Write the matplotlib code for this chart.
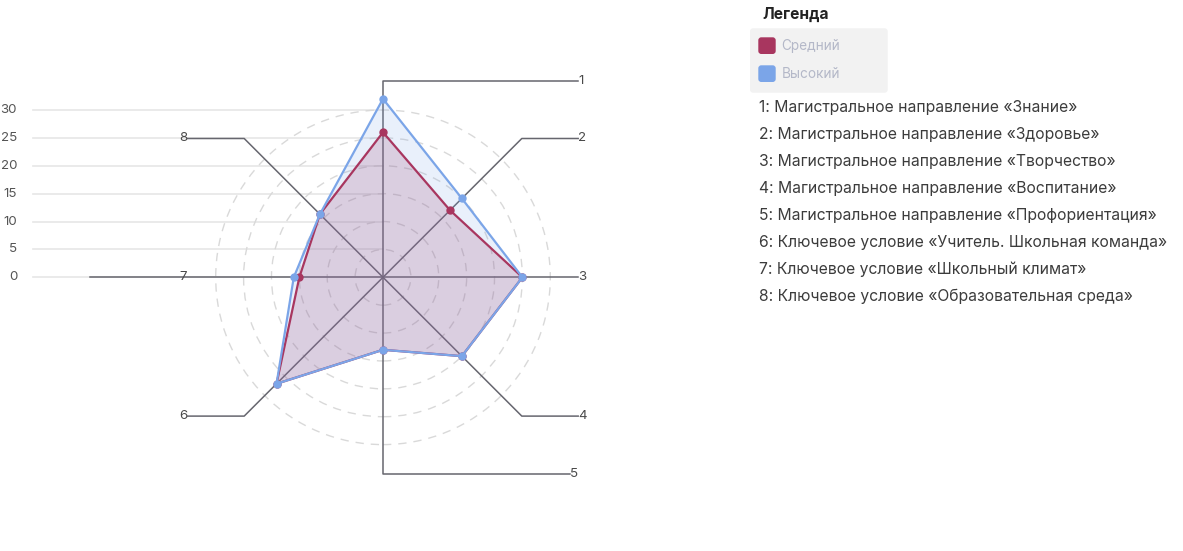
import numpy as np
import matplotlib.pyplot as plt
from matplotlib.patches import FancyBboxPatch, Circle

plt.rcParams['font.family'] = ['Inter', 'DejaVu Sans']

###############################################################################
# Data
###############################################################################
AXIS_IDS = ['1', '2', '3', '4', '5', '6', '7', '8']
AXIS_NAMES = [
    'Магистральное направление «Знание»',
    'Магистральное направление «Здоровье»',
    'Магистральное направление «Творчество»',
    'Магистральное направление «Воспитание»',
    'Магистральное направление «Профориентация»',
    'Ключевое условие «Учитель. Школьная команда»',
    'Ключевое условие «Школьный климат»',
    'Ключевое условие «Образовательная среда»',
]
SERIES = ['Средний', 'Высокий']
SREDNIY = [26, 17, 25, 20, 13, 27, 15, 16]
VYSOKIY = [32, 20, 25, 20, 13, 27, 16, 16]
TICKS = [0, 5, 10, 15, 20, 25, 30]
COLORS = ['#a8365f', '#7ba5e8']

###############################################################################
# Layout
###############################################################################
(W, H) = (1183, 551)
(CX, CY) = (383, 277.3)
S = 167.3 / 30  # px per unit

fig = plt.figure(figsize=(W / 100, H / 100), dpi=100)
ax = fig.add_axes([0, 0, 1, 1])
ax.set_xlim(-CX / S, (W - CX) / S)
ax.set_ylim(-(H - CY) / S, CY / S)
ax.axis('off')

ang = np.deg2rad(90 - 45 * np.arange(len(AXIS_IDS)))

# left value axis
for t in TICKS:
    ax.plot([-62.7, 0], [t, t], color='#e6e6e6', lw=1.2, zorder=1)
    ax.text(-65.6, t, str(t), ha='right', va='center',
            fontsize=9.6, color='#555555')

# dashed rings
for r in TICKS[1:]:
    ax.add_patch(Circle((0, 0), r, fill=False, ec='#d9d9d9', lw=1,
                        ls=(0, (6, 5)), zorder=1))

# spokes with elbow leaders
L = 35.2
d = L * np.cos(np.pi / 4)
LEAD = [
    [(0, L), (35, L)],
    [(d, d), (35, d)],
    [(35, 0)],
    [(d, -d), (35, -d)],
    [(0, -L), (33.5, -L)],
    [(-d, -d), (-35, -d)],
    [(-52.5, 0)],
    [(-d, d), (-35, d)],
]
LBL = [(35.0, L, 'left'), (35.0, d, 'left'), (35.0, 0, 'left'),
       (35.0, -d, 'left'), (33.5, -L, 'left'), (-35.8, -d, 'center'),
       (-35.8, 0, 'center'), (-35.8, d, 'center')]
for (pts, (lx, ly, ha), lab) in zip(LEAD, LBL, AXIS_IDS):
    xs = [0] + [p[0] for p in pts]
    ys = [0] + [p[1] for p in pts]
    ax.plot(xs, ys, color='#66666e', lw=1.1, zorder=2)
    ax.text(lx, ly, lab, ha=ha, va='center', fontsize=9.6,
            color='#4a4a4a', zorder=3)

# series
for (vals, col, alpha, z) in [(SREDNIY, COLORS[0], 0.2, 4),
                              (VYSOKIY, COLORS[1], 0.16, 5)]:
    v = np.array(vals, dtype=float)
    x = v * np.cos(ang)
    y = v * np.sin(ang)
    ax.fill(x, y, color=col, alpha=alpha, lw=0, zorder=3)
    ax.plot(np.append(x, x[0]), np.append(y, y[0]), color=col, lw=1.6,
            zorder=z)
    ax.plot(x, y, 'o', color=col, ms=5, zorder=z)

###############################################################################
# Legend (pixel coords)
###############################################################################
lg = fig.add_axes([0, 0, 1, 1])
lg.set_xlim(0, W)
lg.set_ylim(H, 0)
lg.axis('off')
lg.patch.set_alpha(0)

lg.text(762, 14, 'Легенда', ha='left', va='center', fontsize=11.2,
        fontweight='bold', color='#222222')
lg.add_patch(FancyBboxPatch((750, 28.3), 137.7, 64.4,
                            boxstyle='round,pad=0,rounding_size=3',
                            fc='#f2f2f2', ec='none'))
for (i, (name, col)) in enumerate(zip(SERIES, COLORS)):
    y0 = 37.3 + 28 * i
    lg.add_patch(FancyBboxPatch((758.3, y0), 17.4, 16.7,
                                boxstyle='round,pad=0,rounding_size=3',
                                fc=col, ec='none'))
    lg.text(781.7, y0 + 8.5, name, ha='left', va='center', fontsize=9.8,
            color='#b4b8c8')

for (i, (num, name)) in enumerate(zip(AXIS_IDS, AXIS_NAMES)):
    lg.text(759, 107.3 + 27 * i, f'{num}: {name}', ha='left', va='center',
            fontsize=11.3, color='#3c3c3c')

fig.savefig('out.png', dpi=100)
plt.close('all')
